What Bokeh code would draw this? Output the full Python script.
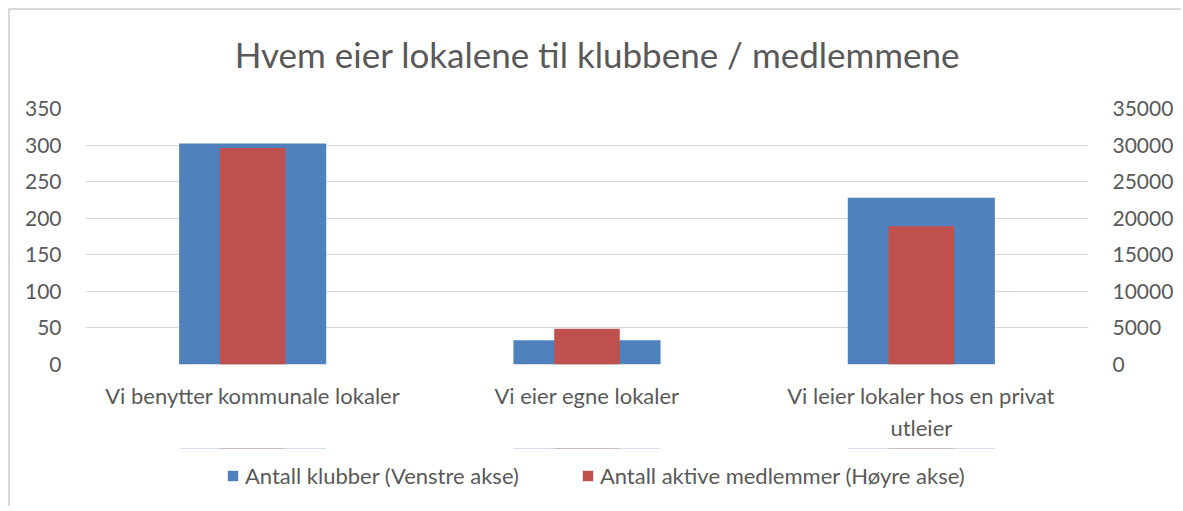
from bokeh.plotting import figure
from bokeh.layouts import column
from bokeh.models import (FactorRange, Range1d, LinearAxis, FixedTicker, Legend,
                          LegendItem, Label, ColumnDataSource)
from bokeh.embed import file_html
from bokeh.resources import INLINE

title_text = "Hvem eier lokalene til klubbene / medlemmene"
categories = ["Vi benytter kommunale lokaler", "Vi eier egne lokaler",
              "Vi leier lokaler hos en privat\nutleier"]
klubber = [302, 33, 228]
medlemmer = [29600, 4900, 18900]
left_ticks = [0, 50, 100, 150, 200, 250, 300, 350]
right_ticks = [0, 5000, 10000, 15000, 20000, 25000, 30000, 35000]
series_names = ["Antall klubber (Venstre akse)", "Antall aktive medlemmer (Høyre akse)"]

FONT = "Lato"
TXT = "#595959"
BLUE = "#4f81bd"
RED = "#c0504d"

src = ColumnDataSource(dict(cat=categories, k=klubber, m=medlemmer))

# title strip
top = figure(width=1173, height=78, x_range=Range1d(0, 1003), y_range=Range1d(78, 0),
             output_backend="svg", toolbar_location=None, x_axis_location=None,
             y_axis_location=None, min_border=0, outline_line_color=None, title=None)
top.grid.visible = False
top.add_layout(Label(x=512, y=43, text=title_text, text_align="center",
                     text_baseline="alphabetic", text_font=FONT, text_font_size="35px",
                     text_color=TXT))

# main chart
p = figure(width=1173, height=360, x_range=FactorRange(*categories, range_padding=0),
           y_range=Range1d(0, 350), output_backend="svg", toolbar_location=None,
           min_border_left=75, min_border_right=95, min_border_top=20,
           min_border_bottom=84, outline_line_color=None, title=None)
p.extra_y_ranges = {"right": Range1d(0, 35000)}

rb = p.vbar(x="cat", top="k", width=0.44, source=src, color=BLUE, line_color=None)
rr = p.vbar(x="cat", top="m", width=0.196, source=src, color=RED, line_color=None,
            y_range_name="right")

p.xgrid.grid_line_color = None
p.ygrid.grid_line_color = "#d9d9d9"
p.ygrid.grid_line_width = 1
p.ygrid.ticker = FixedTicker(ticks=left_ticks)

p.yaxis.ticker = FixedTicker(ticks=left_ticks)
right = LinearAxis(y_range_name="right", ticker=FixedTicker(ticks=right_ticks))
p.add_layout(right, "right")

for ax in [p.yaxis[0], right, p.xaxis[0]]:
    ax.axis_line_color = None
    ax.major_tick_line_color = None
    ax.minor_tick_line_color = None
    ax.major_label_text_font = FONT
    ax.major_label_text_font_size = "21px"
    ax.major_label_text_color = TXT
    ax.major_label_standoff = 18

p.xaxis.major_label_text_font_size = "22px"
p.xaxis.major_label_standoff = 11
p.xaxis.major_label_orientation = "horizontal"

# legend strip below the chart (its zero-height bars lie far outside the visible range)
leg = figure(width=1173, height=60, x_range=FactorRange(*categories),
             y_range=Range1d(-1000, -999),
             output_backend="svg", toolbar_location=None, x_axis_location=None,
             y_axis_location=None, min_border=0, outline_line_color=None, title=None)
leg.grid.visible = False
lb = leg.vbar(x="cat", top="k", bottom="k", width=0.44, source=src, color=BLUE, line_color=None)
lr = leg.vbar(x="cat", top="m", bottom="m", width=0.196, source=src, color=RED, line_color=None)

legend = Legend(items=[LegendItem(label=series_names[0], renderers=[lb]),
                       LegendItem(label=series_names[1], renderers=[lr])],
                orientation="horizontal", location=(141, 19),
                label_text_font=FONT, label_text_font_size="22px", label_text_color=TXT,
                glyph_width=13, glyph_height=13, spacing=62, label_standoff=6,
                padding=5, margin=0, border_line_color=None, background_fill_alpha=0)
leg.add_layout(legend, "center")

layout = column(top, p, leg, spacing=0,
                styles={"margin": "10px 0 0 10px",
                        "box-shadow": "-2px -2px 0 0 #d9d9d9"})

open("out.html", "w").write(file_html(layout, INLINE))
